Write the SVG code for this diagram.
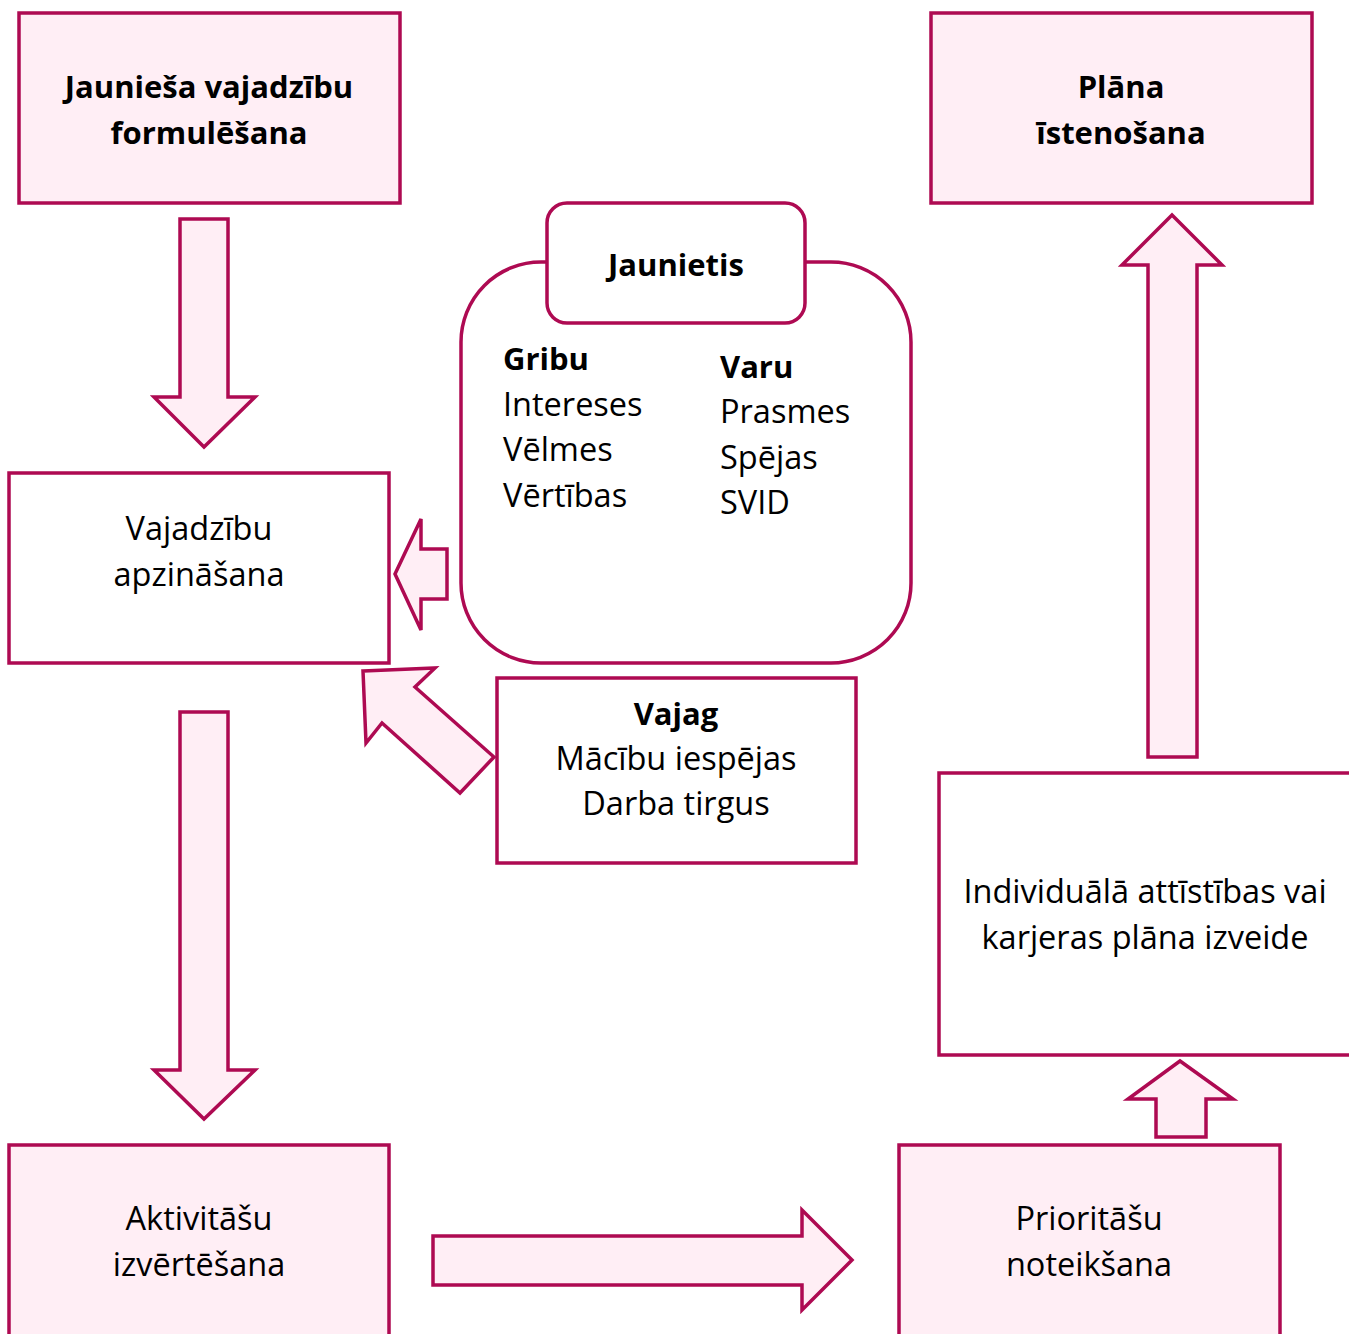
<svg xmlns="http://www.w3.org/2000/svg" width="1349" height="1334" viewBox="0 0 1349 1334">
<style>
.box{stroke:#AE0A52;stroke-width:3.5;}
.pink{fill:#FFEEF5;}
.white{fill:#FFFFFF;}
.arr{fill:#FFEEF5;stroke:#AE0A52;stroke-width:3.5;stroke-linejoin:miter;}
text{font-family:"Open Sans","Liberation Sans",sans-serif;font-size:32.5px;fill:#000;}
.b{font-weight:bold;font-size:31px;}
.c{text-anchor:middle;}
</style>
<rect width="1349" height="1334" fill="#FFFFFF"/>
<g id="connectors">
<polygon class="arr" points="180,219 228,219 228,397 255,397 204,447 154,397 180,397"/>
<polygon class="arr" points="180,712 228,712 228,1070 255,1070 204,1119 154,1070 180,1070"/>
<polygon class="arr" points="433,1236 802,1236 802,1210 852,1260 802,1310 802,1285 433,1285"/>
<polygon class="arr" points="1156,1137 1206,1137 1206,1099 1233,1099 1180,1061 1128,1099 1156,1099"/>
<polygon class="arr" points="1148,757 1197,757 1197,265 1222,265 1172,215 1122,265 1148,265"/>
<polygon class="arr" points="447,549 447,599 421,599 421,630 395,574 421,519 421,549"/>
<polygon class="arr" points="363,671 435,668 415,687 494,757 460,793 382,723 366,743"/>
</g>
<g id="node-jauniesa">
<rect class="box pink" x="19" y="13" width="381" height="190"/>
<text class="b c" x="209" y="98">Jaunieša vajadzību</text>
<text class="b c" x="209" y="144">formulēšana</text>
</g>
<g id="node-vajadzibu">
<rect class="box white" x="9" y="473" width="380" height="190"/>
<text class="c" x="199" y="540">Vajadzību</text>
<text class="c" x="199" y="586">apzināšana</text>
</g>
<g id="node-jaunietis">
<rect class="box white" x="461" y="262" width="450" height="401" rx="80" ry="80"/>
<rect class="box white" x="547" y="203" width="258" height="120" rx="20" ry="20"/>
<text class="b c" x="676" y="276">Jaunietis</text>
<text class="b" x="503" y="370">Gribu</text>
<text x="503" y="416">Intereses</text>
<text x="503" y="461">Vēlmes</text>
<text x="503" y="507">Vērtības</text>
<text class="b" x="720" y="378">Varu</text>
<text x="720" y="423">Prasmes</text>
<text x="720" y="469">Spējas</text>
<text x="720" y="514">SVID</text>
</g>
<g id="node-vajag">
<rect class="box white" x="497" y="678" width="359" height="185"/>
<text class="b c" x="676" y="725">Vajag</text>
<text class="c" x="676" y="770">Mācību iespējas</text>
<text class="c" x="676" y="815">Darba tirgus</text>
</g>
<g id="node-aktivitasu">
<rect class="box pink" x="9" y="1145" width="380" height="200"/>
<text class="c" x="199" y="1230">Aktivitāšu</text>
<text class="c" x="199" y="1276">izvērtēšana</text>
</g>
<g id="node-prioritasu">
<rect class="box pink" x="899" y="1145" width="381" height="200"/>
<text class="c" x="1089" y="1230">Prioritāšu</text>
<text class="c" x="1089" y="1276">noteikšana</text>
</g>
<g id="node-plana-izveide">
<rect class="box white" x="939" y="773" width="420" height="282"/>
<text class="c" x="1145" y="903">Individuālā attīstības vai</text>
<text class="c" x="1145" y="949">karjeras plāna izveide</text>
</g>
<g id="node-plana-istenosana">
<rect class="box pink" x="931" y="13" width="381" height="190"/>
<text class="b c" x="1121" y="98">Plāna</text>
<text class="b c" x="1121" y="144">īstenošana</text>
</g>
</svg>
